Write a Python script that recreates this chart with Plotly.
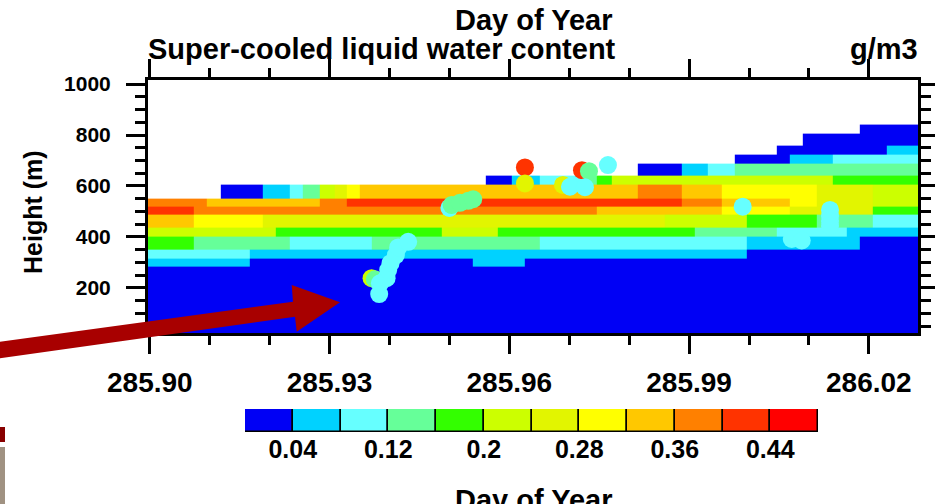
import plotly.graph_objects as go

# ---------------- data ----------------
# time-column edges (day of year) of the gridded retrieval
time_edges = [285.89833, 285.90050, 285.90284, 285.90501, 285.90735, 285.90952, 285.91185,
              285.91419, 285.91669, 285.91886, 285.92104, 285.92337, 285.92554, 285.92838,
              285.93088, 285.93289, 285.93506, 285.93706, 285.93940, 285.94174, 285.94407,
              285.94641, 285.94875, 285.95142, 285.95392, 285.95609, 285.95810, 285.96043,
              285.96260, 285.96511, 285.96761, 285.96995, 285.97229, 285.97462, 285.97713,
              285.97930, 285.98147, 285.98381, 285.98598, 285.98881, 285.99098, 285.99316,
              285.99549, 285.99766, 285.99967, 286.00217, 286.00467, 286.00684, 286.00902,
              286.01135, 286.01402, 286.01636, 286.01853, 286.02070, 286.02304, 286.02538,
              286.02938]
# height-layer edges (m)
height_edges = [20, 283, 316, 349, 401, 437, 486, 519, 552, 604, 639, 689, 725, 757, 806, 841]

# run-length rows of super-cooled LWC (g/m3) per height layer: (value, number of time columns)
band_00 = [(0.02, 56)]
band_01 = [(0.06, 8), (0.02, 16), (0.06, 4), (0.02, 28)]
band_02 = [(0.10, 8), (0.06, 36), (0.02, 12)]
band_03 = [(0.18, 4), (0.14, 7), (0.10, 6), (0.14, 12), (0.10, 15), (0.06, 8), (0.02, 4)]
band_04 = [(0.22, 10), (0.18, 12), (0.22, 4), (0.18, 14), (0.14, 6), (0.10, 5), (0.06, 5)]
band_05 = [(0.34, 4), (0.30, 5), (0.26, 29), (0.22, 6), (0.18, 5), (0.14, 4), (0.10, 3)]
band_06 = [(0.42, 4), (0.38, 29), (0.34, 9), (0.30, 5), (0.26, 6), (0.18, 3)]
band_07 = [(0.38, 5), (0.34, 8), (0.38, 2), (0.42, 24), (0.38, 3), (0.34, 5), (0.30, 2),
           (0.26, 4), (0.22, 3)]
band_08 = [(None, 6), (0.02, 3), (0.06, 2), (0.10, 1), (0.14, 1), (0.22, 1), (0.26, 1),
           (0.30, 1), (0.34, 20), (0.38, 3), (0.34, 3), (0.30, 7), (0.26, 4), (0.22, 3)]
band_09 = [(None, 25), (0.02, 2), (0.06, 2), (0.10, 3), (0.14, 1), (0.18, 1), (0.22, 16),
           (0.18, 6)]
band_10 = [(None, 36), (0.02, 3), (0.06, 2), (0.10, 2), (0.14, 13)]
band_11 = [(None, 43), (0.02, 4), (0.06, 3), (0.10, 6)]
band_12 = [(None, 46), (0.02, 8), (0.06, 2)]
band_13 = [(None, 48), (0.02, 8)]
band_14 = [(None, 52), (0.02, 4)]

# in-situ aircraft observations
pt_day = [285.93701, 285.93756, 285.93828, 285.93840, 285.93952, 285.93978, 285.94018,
          285.94107, 285.94145, 285.94312,
          285.95000, 285.95037, 285.95175, 285.95314, 285.95397,
          285.96260, 285.96260,
          285.96895, 285.97212, 285.97329, 285.97012, 285.97262, 285.97646,
          285.99894, 286.00713, 286.00880, 286.01352, 286.01352, 286.01352, 286.01352]
pt_height = [238, 234, 176, 218, 238, 270, 297, 329, 359, 381,
             514, 525, 534, 542, 548,
             673, 610,
             604, 662, 658, 597, 595, 682,
             519, 392, 386, 506, 482, 463, 443]
pt_lwc = [0.22, 0.14, 0.10, 0.10, 0.10, 0.10, 0.10, 0.10, 0.10, 0.10,
          0.10, 0.14, 0.14, 0.14, 0.14,
          0.42, 0.26,
          0.26, 0.42, 0.14, 0.10, 0.10, 0.10,
          0.10, 0.10, 0.10, 0.10, 0.10, 0.10, 0.10]

# colour levels
level_bounds = [0.0, 0.04, 0.08, 0.12, 0.16, 0.20, 0.24, 0.28, 0.32, 0.36, 0.40, 0.44, 0.48]
level_colors = ['#0000F5', '#00D2FF', '#66FFFF', '#66FF99', '#33FF00', '#CCFF00',
                '#E2F500', '#FFFF00', '#FFC800', '#FF8000', '#FF3300', '#FF0000']
label_levels = [0.04, 0.12, 0.2, 0.28, 0.36, 0.44]
x_ticks = [285.90, 285.93, 285.96, 285.99, 286.02]
x_minor = [285.91, 285.92, 285.94, 285.95, 285.97, 285.98, 286.00, 286.01]
y_ticks = [200, 400, 600, 800, 1000]
y_minor = [50, 100, 150, 250, 300, 350, 450, 500, 550, 650, 700, 750, 850, 900, 950]

# ---------------- layout helpers ----------------
W, H = 935, 504
ML, MR, MT, MB = 148, 17, 80, 20
PW, PH = W - ML - MR, H - MT - MB


def fx(px):
    return (px - ML) / PW


def fy(py):
    return (MT + PH - py) / PH


FONT = 'Liberation Sans'

bands = [band_00, band_01, band_02, band_03, band_04, band_05, band_06, band_07,
         band_08, band_09, band_10, band_11, band_12, band_13, band_14]
z = []
for runs in bands:
    row = []
    for v, n in runs:
        row += [v] * n
    z.append(row)

ncol = len(level_colors)
zmin, zmax = level_bounds[0], level_bounds[-1]
cscale = []
for i, c in enumerate(level_colors):
    cscale.append([i / ncol, c])
    cscale.append([(i + 1) / ncol, c])

fig = go.Figure()
fig.add_trace(go.Heatmap(x=time_edges, y=height_edges, z=z, colorscale=cscale,
                         zmin=zmin, zmax=zmax, showscale=False, hoverinfo='skip'))
fig.add_trace(go.Scatter(x=pt_day, y=pt_height, mode='markers', hoverinfo='skip',
                         marker=dict(size=18, color=pt_lwc, colorscale=cscale,
                                     cmin=zmin, cmax=zmax, line=dict(width=0))))
centers = [(a + b) / 2 for a, b in zip(level_bounds[:-1], level_bounds[1:])]
widths = [b - a for a, b in zip(level_bounds[:-1], level_bounds[1:])]
fig.add_trace(go.Bar(x=centers, y=[1] * ncol, width=widths, xaxis='x2', yaxis='y2',
                     hoverinfo='skip',
                     marker=dict(color=level_colors, line=dict(color='black', width=1.5))))

tickfont = dict(family=FONT, size=28, color='black', weight='bold')
fig.update_layout(
    width=W, height=H, margin=dict(l=ML, r=MR, t=MT, b=MB, autoexpand=False),
    autosize=False,
    paper_bgcolor='white', plot_bgcolor='white', showlegend=False,
    xaxis=dict(domain=[0, 1], anchor='y', range=[285.8997, 286.0282], automargin=False,
               tickmode='array', tickvals=x_ticks, ticktext=['%.2f' % v for v in x_ticks],
               ticks='outside', ticklen=18, tickwidth=2.5, tickcolor='black',
               showline=True, linecolor='black', linewidth=3, mirror='allticks',
               showgrid=False, zeroline=False, tickfont=tickfont, ticklabelstandoff=4,
               minor=dict(tickmode='array', tickvals=x_minor, ticks='outside', ticklen=9,
                          tickwidth=2.5, tickcolor='black', showgrid=False)),
    yaxis=dict(domain=[fy(333), 1], anchor='x', range=[23, 1016], automargin=False,
               tickmode='array', tickvals=y_ticks,
               ticks='outside', ticklen=19, tickwidth=2.5, tickcolor='black',
               showline=True, linecolor='black', linewidth=3, mirror='allticks',
               showgrid=False, zeroline=False,
               tickfont=dict(family=FONT, size=21, color='black', weight='bold'),
               ticklabelstandoff=11,
               minor=dict(tickmode='array', tickvals=y_minor, ticks='outside', ticklen=10,
                          tickwidth=2.5, tickcolor='black', showgrid=False)),
    xaxis2=dict(domain=[fx(245), fx(818)], anchor='y2', range=[zmin, zmax], automargin=False,
                tickmode='array', tickvals=label_levels, ticktext=[str(v) for v in label_levels],
                ticks='', showline=False, showgrid=False, zeroline=False,
                tickfont=dict(family=FONT, size=25, color='black', weight='bold')),
    yaxis2=dict(domain=[fy(432), fy(409)], anchor='x2', range=[0, 1], visible=False,
                automargin=False),
    bargap=0,
)

ann_font = dict(family=FONT, size=29, color='black', weight='bold')
fig.add_annotation(text='Day of Year', x=fx(533), y=fy(20), xref='paper', yref='paper',
                   xanchor='center', yanchor='middle', showarrow=False, font=ann_font)
fig.add_annotation(text='Super-cooled liquid water content', x=fx(146), y=fy(49),
                   xref='paper', yref='paper', xanchor='left', yanchor='middle',
                   showarrow=False, font=ann_font)
fig.add_annotation(text='g/m3', x=fx(920), y=fy(49), xref='paper', yref='paper',
                   xanchor='right', yanchor='middle', showarrow=False, font=ann_font)
fig.add_annotation(text='Height (m)', x=fx(33), y=fy(212), xref='paper', yref='paper',
                   xanchor='center', yanchor='middle', textangle=-90, showarrow=False,
                   font=dict(family=FONT, size=25, color='black', weight='bold'))
fig.add_annotation(text='Day of Year', x=fx(533), y=fy(500), xref='paper', yref='paper',
                   xanchor='center', yanchor='middle', showarrow=False, font=ann_font)

# red pointer arrow (slide overlay)
arrow_px = [(-20, 344.4), (293, 301.7), (291.7, 285), (340, 302.3), (296.7, 331.7),
            (295, 316.7), (-20, 361.1)]
path = 'M ' + ' L '.join('%.5f,%.5f' % (fx(a), fy(b)) for a, b in arrow_px) + ' Z'
fig.add_shape(type='path', path=path, xref='paper', yref='paper', layer='above',
              fillcolor='#A80000', line=dict(width=0))
# slide edge decorations
fig.add_shape(type='rect', x0=fx(-2), x1=fx(5), y0=fy(427), y1=fy(442), xref='paper',
              yref='paper', fillcolor='#880000', line=dict(width=0), layer='above')
fig.add_shape(type='rect', x0=fx(-2), x1=fx(5), y0=fy(447), y1=fy(510), xref='paper',
              yref='paper', fillcolor='#A09282', line=dict(width=0), layer='above')

fig.write_html('out.html')
